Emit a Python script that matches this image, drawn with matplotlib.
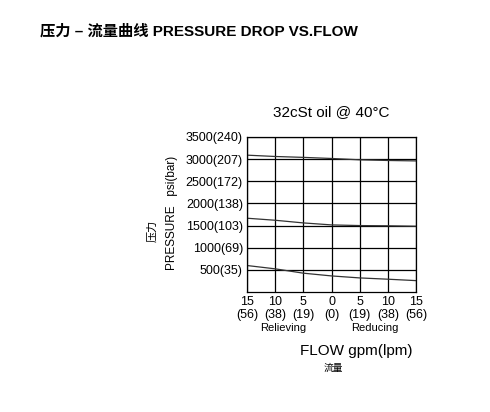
import numpy as np
import matplotlib.pyplot as plt

plt.rcParams['font.family'] = ['Liberation Sans', 'Noto Sans CJK SC', 'DejaVu Sans']

# flow axis: relieving side is negative, reducing side positive
flow = [-15, -10, -5, 0, 5, 10, 15]
xtick_labels = ['15\n(56)', '10\n(38)', '5\n(19)', '0\n(0)', '5\n(19)', '10\n(38)', '15\n(56)']
yticks = [500, 1000, 1500, 2000, 2500, 3000, 3500]
ytick_labels = ['500(35)', '1000(69)', '1500(103)', '2000(138)', '2500(172)', '3000(207)', '3500(240)']

curve_high = [3090, 3060, 3040, 3015, 2985, 2970, 2960]
curve_mid = [1666, 1620, 1560, 1515, 1500, 1495, 1485]
curve_low = [598, 523, 425, 363, 318, 289, 257]


def main():
    fig = plt.figure(figsize=(4.9, 4.12), dpi=100)
    W, H = 490, 412
    ax = fig.add_axes([247 / W, 1 - 292 / H, 169 / W, 155 / H])

    for curve in (curve_high, curve_mid, curve_low):
        ax.plot(flow, curve, color='#333333', lw=0.9)

    ax.set_xlim(-15, 15)
    ax.set_ylim(0, 3500)
    ax.set_xticks(flow)
    ax.set_xticklabels(xtick_labels, fontsize=9, linespacing=1.1)
    ax.set_yticks(yticks)
    ax.set_yticklabels(ytick_labels, fontsize=9)
    ax.tick_params(length=0, pad=3)
    ax.grid(color='black', lw=0.9)
    for s in ax.spines.values():
        s.set_linewidth(0.9)

    # texts
    fig.text(40 / W, 1 - 31 / H, '压力 – 流量曲线 PRESSURE DROP VS.FLOW',
             fontsize=11, fontweight='bold', va='center', ha='left',
             family=['Liberation Sans', 'Noto Sans CJK SC'])
    fig.text(331 / W, 1 - 112 / H, '32cSt oil @ 40°C', fontsize=11,
             ha='center', va='center')
    fig.text(172 / W, 1 - 213 / H, 'PRESSURE   psi(bar)', fontsize=8.5,
             rotation=90, ha='center', va='center')
    fig.text(152 / W, 1 - 231 / H, '压力', fontsize=8, rotation=90,
             ha='center', va='center', family=['Noto Sans CJK SC'])
    fig.text(283 / W, 1 - 328 / H, 'Relieving', fontsize=8, ha='center', va='center')
    fig.text(375 / W, 1 - 328 / H, 'Reducing', fontsize=8, ha='center', va='center')
    fig.text(356 / W, 1 - 351 / H, 'FLOW gpm(lpm)', fontsize=11, ha='center', va='center')
    fig.text(333 / W, 1 - 368 / H, '流量', fontsize=7, ha='center', va='center',
             family=['Noto Sans CJK SC'])

    fig.savefig('out.png', dpi=100)


if __name__ == '__main__':
    main()
